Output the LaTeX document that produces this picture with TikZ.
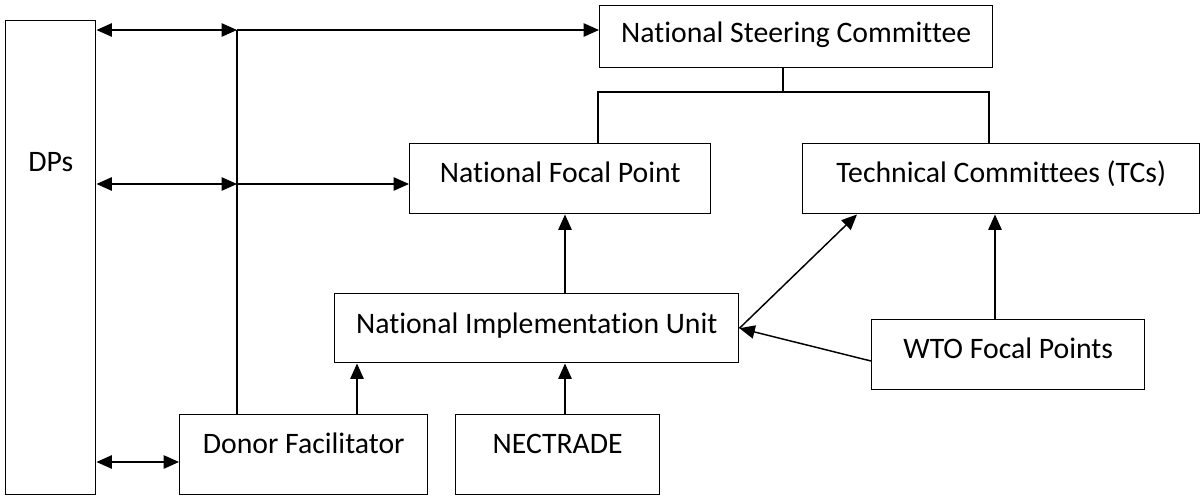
\documentclass[tikz,border=0pt]{standalone}
\usepackage{fontspec}
\setmainfont{Carlito}[Ligatures=NoCommon]
\usetikzlibrary{arrows.meta}

\begin{document}
\begin{tikzpicture}[x=0.75pt,y=0.75pt,yscale=-1,xscale=1,
  box/.style={draw, line width=1.1pt, anchor=north west, inner sep=0pt, font=\fontsize{22.3}{26}\selectfont, text height=29.25pt},
  link/.style={line width=1.1pt},
  flow/.style={link, -{Triangle[length=11.5pt,width=10pt]}},
  twoway/.style={link, {Triangle[length=11.5pt,width=10pt]}-{Triangle[length=11.5pt,width=10pt]}}]
\useasboundingbox (0,0) rectangle (1200,496);

%Boxes
\node[box, minimum width=67.5pt, text height=113.25pt, text depth=242.25pt] (dps) at (5,20) {DPs};
\node[box, minimum width=294.75pt, text height=27.75pt, text depth=18.75pt] (nsc) at (599,5) {National Steering Committee};
\node[box, minimum width=225.75pt, text depth=23.25pt] (nfp) at (409,143) {National Focal Point};
\node[box, minimum width=297.75pt, text depth=23.25pt] (tcs) at (802,143) {Technical Committees (TCs)};
\node[box, minimum width=303pt, text height=30pt, text depth=21.75pt] (niu) at (334,293) {National Implementation Unit};
\node[box, minimum width=204.75pt, text depth=23.25pt] (wto) at (871,319) {WTO Focal Points};
\node[box, minimum width=186pt, text depth=30.75pt] (df) at (179,414) {Donor Facilitator};
\node[box, minimum width=153pt, text depth=30.75pt] (nec) at (455,414) {NECTRADE};

%Junctions
\coordinate (j1) at (237,30);
\coordinate (j2) at (237,184);
\coordinate (tee) at (783,92);

%DPs links
\draw[twoway] (dps.east |- j1) -- (j1);
\draw[flow] (j1) -- (j1 -| nsc.west);
\draw[link] (j1) -- (j1 |- df.north);
\draw[twoway] (dps.east |- j2) -- (j2);
\draw[flow] (j2) -- (j2 -| nfp.west);
\draw[twoway] (dps.east |- 0,462) -- (df.west |- 0,462);

%Steering committee branches
\draw[link] (nsc.south -| tee) -- (tee);
\draw[link] (nfp.north -| 598,0) |- (tee) -| (tcs.north -| 989,0);

%Upward flows
\draw[flow] (niu.north -| 565,0) -- (nfp.south -| 565,0);
\draw[flow] (df.north -| 357,0) -- (niu.south -| 357,0);
\draw[flow] (nec.north -| 565,0) -- (niu.south -| 565,0);
\draw[flow] (wto.north -| 995,0) -- (tcs.south -| 995,0);
\draw[flow] (wto.west |- 0,361) -- (niu.east);
\draw[flow] (niu.east) -- (tcs.south -| 857,0);

\end{tikzpicture}
\end{document}
